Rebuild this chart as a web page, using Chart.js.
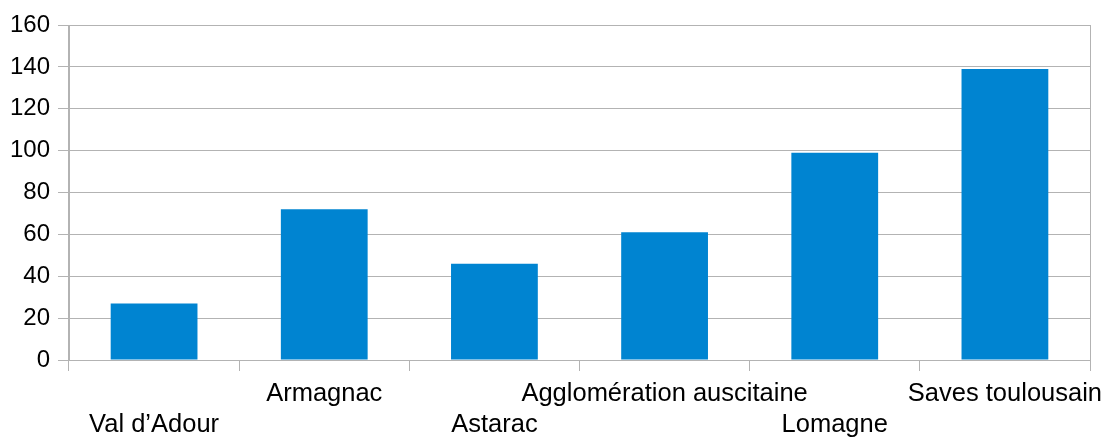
<!DOCTYPE html>
<html>
<head>
<meta charset="utf-8">
<script src="https://cdn.jsdelivr.net/npm/chart.js@4"></script>
<style>
    html, body { margin: 0; padding: 0; background: #ffffff; }
    #chart { display: block; }
</style>
</head>
<body>
<canvas id="chart" width="1108" height="437"></canvas>
<script>
// values
const categories = ['Val d’Adour', 'Armagnac', 'Astarac', 'Agglomération auscitaine', 'Lomagne', 'Saves toulousain'];
const values = [27, 72, 46, 61, 99, 139];
const yTicks = [0, 20, 40, 60, 80, 100, 120, 140, 160];

const gridGray = '#b3b3b3';

// labels alternate between two rows, like the original
const staggered = categories.map((name, i) => (i % 2 === 0 ? ['', name] : [name, '']));

new Chart(document.getElementById('chart'), {
    type: 'bar',
    data: {
        labels: staggered,
        datasets: [{
            data: values,
            backgroundColor: '#0084d1',
            borderWidth: 0,
            barPercentage: 0.51,
            categoryPercentage: 1
        }]
    },
    options: {
        responsive: false,
        animation: false,
        devicePixelRatio: 1,
        layout: { padding: { top: 25, right: 18, left: 0, bottom: 0 } },
        plugins: { legend: { display: false }, tooltip: { enabled: false } },
        scales: {
            x: {
                border: { display: false },
                grid: {
                    offset: true,
                    drawOnChartArea: true,
                    // only the two outer lines reach into the plot
                    color: (c) => (c.index === 0 || c.index === undefined ? gridGray : 'rgba(0,0,0,0)'),
                    tickColor: gridGray,
                    tickLength: 11
                },
                ticks: {
                    autoSkip: false,
                    maxRotation: 0,
                    minRotation: 0,
                    padding: 7,
                    color: '#000000',
                    font: { family: 'Liberation Sans', size: 25.5, lineHeight: '31px' }
                },
                afterFit: (scale) => {
                    scale.height = 77;
                    // let the last label run into the right margin
                    scale.paddingLeft = 0;
                    scale.paddingRight = 0;
                }
            },
            y: {
                min: 0,
                max: 160,
                afterBuildTicks: (scale) => { scale.ticks = yTicks.map(v => ({ value: v })); },
                border: { color: gridGray },
                grid: { color: gridGray, tickColor: gridGray, tickLength: 11 },
                ticks: {
                    padding: 8,
                    color: '#000000',
                    font: { family: 'Liberation Sans', size: 24 }
                },
                afterFit: (scale) => { scale.width = 69; }
            }
        }
    }
});
</script>
</body>
</html>
